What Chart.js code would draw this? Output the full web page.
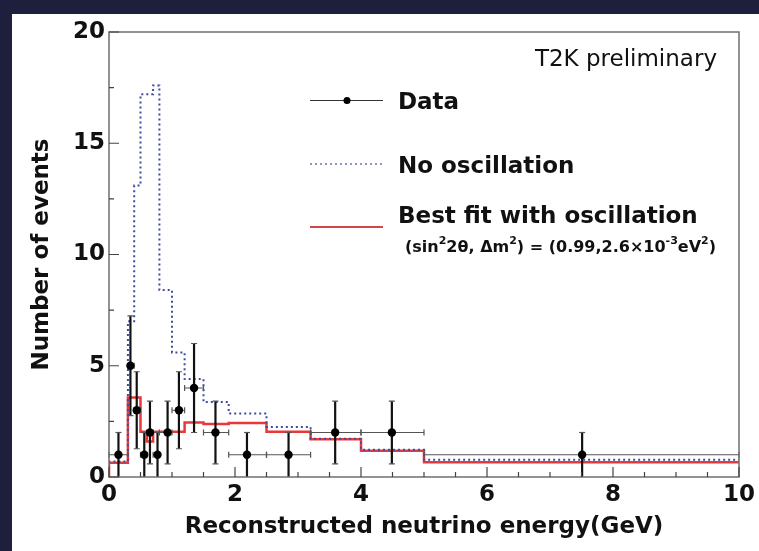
<!DOCTYPE html>
<html><head><meta charset="utf-8">
<script src="https://cdn.jsdelivr.net/npm/chart.js@4/dist/chart.umd.min.js"></script>
<style>html,body{margin:0;padding:0;background:#1e1f3c;overflow:hidden}canvas{display:block}</style>
</head><body>
<canvas id="c" width="759" height="551"></canvas>
<script>
// ---- data ----
const binEdges   = [0, 0.3, 0.4, 0.5, 0.6, 0.7, 0.8, 1.0, 1.2, 1.5, 1.9, 2.5, 3.2, 4.0, 5.0, 10];
const dataX      = [0.15, 0.34, 0.44, 0.56, 0.65, 0.77, 0.93, 1.11, 1.35, 1.69, 2.19, 2.85, 3.59, 4.49, 7.51];
const dataY      = [1, 5, 3, 1, 2, 1, 2, 3, 4, 2, 1, 1, 2, 2, 1];
const dataErr    = [1.0, 2.24, 1.73, 1.0, 1.41, 1.0, 1.41, 1.73, 2.0, 1.41, 1.0, 1.0, 1.41, 1.41, 1.0];
const noOscillation = [0.7, 7.0, 13.1, 17.2, 17.2, 17.6, 8.4, 5.6, 4.4, 3.37, 2.85, 2.25, 1.72, 1.22, 0.78];
const bestFit       = [0.64, 3.57, 3.57, 2.03, 1.6, 2.03, 2.03, 2.03, 2.45, 2.38, 2.43, 2.03, 1.7, 1.18, 0.66];
const xTickLabels = ['0', '2', '4', '6', '8', '10'];
const yTickLabels = ['0', '5', '10', '15', '20'];

function stepPoints(vals) {
  const pts = [{x: binEdges[0], y: 0}, {x: binEdges[0], y: vals[0]}];
  for (let i = 1; i < vals.length; i++) pts.push({x: binEdges[i], y: vals[i]});
  pts.push({x: binEdges[binEdges.length - 1], y: vals[vals.length - 1]});
  return pts;
}

const FONT = "'DejaVu Sans', sans-serif";
const BLUE = '#3d4c9e';
const RED = '#e8383c';

const bgPlugin = {
  id: 'bg',
  beforeDraw(chart) {
    const ctx = chart.ctx;
    ctx.save();
    ctx.fillStyle = '#1e1f3c';
    ctx.fillRect(0, 0, chart.width, chart.height);
    ctx.fillStyle = '#ffffff';
    ctx.fillRect(12, 14, chart.width - 12, chart.height - 14);
    ctx.restore();
  }
};

const framePlugin = {
  id: 'frame',
  afterDraw(chart) {
    const {ctx, chartArea: a, scales: {x, y}} = chart;
    ctx.save();
    ctx.strokeStyle = '#6f6f6f';
    ctx.lineWidth = 1.5;
    ctx.strokeRect(a.left, a.top, a.right - a.left, a.bottom - a.top);
    ctx.strokeStyle = '#444';
    ctx.lineWidth = 1.2;
    ctx.beginPath();
    for (let v = 0; v <= 10.001; v += 0.5) {
      const px = x.getPixelForValue(v);
      const len = (Math.abs(v / 2 - Math.round(v / 2)) < 1e-6) ? 10 : 5;
      ctx.moveTo(px, a.bottom); ctx.lineTo(px, a.bottom - len);
    }
    for (let v = 0; v <= 20.001; v += 2.5) {
      const py = y.getPixelForValue(v);
      const len = (Math.abs(v / 5 - Math.round(v / 5)) < 1e-6) ? 10 : 5;
      ctx.moveTo(a.left, py); ctx.lineTo(a.left + len, py);
    }
    ctx.stroke();
    ctx.restore();
  }
};

const errorBarPlugin = {
  id: 'errbars',
  beforeDatasetDraw(chart, args) {
    if (args.index !== 0) return;
    const {ctx, scales: {x, y}} = chart;
    ctx.save();
    for (let i = 0; i < dataX.length; i++) {
      const px = x.getPixelForValue(dataX[i]);
      const py = y.getPixelForValue(dataY[i]);
      const xl = x.getPixelForValue(binEdges[i]);
      const xh = x.getPixelForValue(binEdges[i + 1]);
      const yl = y.getPixelForValue(Math.max(0, dataY[i] - dataErr[i]));
      const yh = y.getPixelForValue(dataY[i] + dataErr[i]);
      ctx.strokeStyle = '#555';
      ctx.lineWidth = 1.2;
      ctx.beginPath();
      ctx.moveTo(xl, py); ctx.lineTo(xh, py);
      ctx.moveTo(xl, py - 3); ctx.lineTo(xl, py + 3);
      ctx.moveTo(xh, py - 3); ctx.lineTo(xh, py + 3);
      ctx.stroke();
      ctx.strokeStyle = '#111';
      ctx.lineWidth = 2.2;
      ctx.beginPath();
      ctx.moveTo(px, yl); ctx.lineTo(px, yh);
      ctx.stroke();
      ctx.lineWidth = 1.2;
      ctx.strokeStyle = '#555';
      ctx.beginPath();
      ctx.moveTo(px - 3, yh); ctx.lineTo(px + 3, yh);
      if (dataY[i] - dataErr[i] > 0) { ctx.moveTo(px - 3, yl); ctx.lineTo(px + 3, yl); }
      ctx.stroke();
    }
    ctx.restore();
  }
};

const textPlugin = {
  id: 'texts',
  afterDraw(chart) {
    const ctx = chart.ctx;
    ctx.save();
    ctx.fillStyle = '#111';
    ctx.textBaseline = 'alphabetic';
    ctx.font = `23px ${FONT}`;
    ctx.textAlign = 'right';
    ctx.fillText('T2K preliminary', 717, 66);
    ctx.textAlign = 'left';
    // Data symbol
    ctx.strokeStyle = '#333'; ctx.lineWidth = 1.2;
    ctx.beginPath(); ctx.moveTo(310, 100.5); ctx.lineTo(383, 100.5); ctx.stroke();
    ctx.fillStyle = '#000';
    ctx.beginPath(); ctx.arc(347, 100.5, 3.5, 0, Math.PI * 2); ctx.fill();
    // No oscillation symbol
    ctx.strokeStyle = '#6a76a6'; ctx.lineWidth = 1.5; ctx.setLineDash([2, 3]);
    ctx.beginPath(); ctx.moveTo(310, 164); ctx.lineTo(383, 164); ctx.stroke();
    ctx.setLineDash([]);
    // Best fit symbol
    ctx.strokeStyle = '#d0464a'; ctx.lineWidth = 2;
    ctx.beginPath(); ctx.moveTo(310, 227); ctx.lineTo(383, 227); ctx.stroke();
    ctx.fillStyle = '#111';
    ctx.font = `bold 23px ${FONT}`;
    ctx.fillText('Data', 398, 109);
    ctx.fillText('No oscillation', 398, 173);
    ctx.fillText('Best fit with oscillation', 398, 223);
    const segs = [
      ['(sin', 0], ['2', 1], ['2θ, Δm', 0], ['2', 1], [') = (0.99,2.6×10', 0], ['-3', 1], ['eV', 0], ['2', 1], [')', 0]
    ];
    let cx = 405;
    for (const [t, sup] of segs) {
      ctx.font = sup ? `bold 11px ${FONT}` : `bold 16px ${FONT}`;
      ctx.fillText(t, cx, sup ? 244 : 252);
      cx += ctx.measureText(t).width;
    }
    ctx.restore();
  }
};

new Chart(document.getElementById('c'), {
  data: {
    datasets: [
      {
        type: 'scatter', label: 'Data',
        data: dataX.map((v, i) => ({x: v, y: dataY[i]})),
        pointRadius: 4.2, pointBackgroundColor: '#000', pointBorderColor: '#000', pointBorderWidth: 0,
        showLine: false
      },
      {
        type: 'line', label: 'No oscillation',
        data: stepPoints(noOscillation), stepped: 'before',
        borderColor: BLUE, borderWidth: 2, borderDash: [2, 3], pointRadius: 0, fill: false, tension: 0
      },
      {
        type: 'line', label: 'Best fit with oscillation',
        data: stepPoints(bestFit), stepped: 'before',
        borderColor: RED, borderWidth: 2.5, pointRadius: 0, fill: false, tension: 0
      }
    ]
  },
  options: {
    responsive: false, animation: false, devicePixelRatio: 1,
    layout: {padding: {left: 0, top: 32, right: 18, bottom: 0}},
    plugins: {legend: {display: false}, tooltip: {enabled: false}},
    scales: {
      x: {
        type: 'linear', min: 0, max: 10,
        afterFit(s) { s.height = 74; },
        afterBuildTicks(s) { s.ticks = xTickLabels.map(v => ({value: Number(v)})); },
        grid: {display: false, drawTicks: false},
        border: {display: false},
        ticks: {color: '#111', font: {family: FONT, size: 23, weight: 'bold'}, padding: 4, maxRotation: 0,
                callback: (v) => String(v)},
        title: {display: true, text: 'Reconstructed neutrino energy(GeV)', color: '#111',
                font: {family: FONT, size: 23, weight: 'bold'}, padding: {top: 0, bottom: 10}}
      },
      y: {
        type: 'linear', min: 0, max: 20,
        afterFit(s) { s.width = 109; },
        afterBuildTicks(s) { s.ticks = yTickLabels.map(v => ({value: Number(v)})); },
        grid: {display: false, drawTicks: false},
        border: {display: false},
        ticks: {color: '#111', font: {family: FONT, size: 23, weight: 'bold'}, padding: 4,
                callback: (v) => String(v)},
        title: {display: true, text: 'Number of events', color: '#111',
                font: {family: FONT, size: 23, weight: 'bold'}, padding: {top: 28, bottom: 0}}
      }
    }
  },
  plugins: [bgPlugin, errorBarPlugin, framePlugin, textPlugin]
});
</script>
</body></html>
